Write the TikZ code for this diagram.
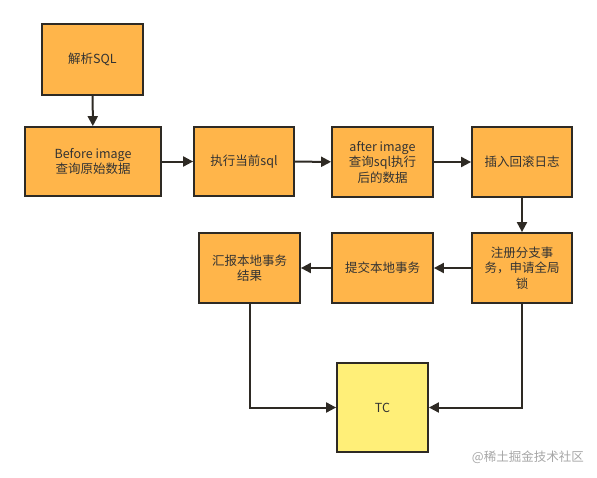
\documentclass[tikz,border=0pt]{standalone}
\usepackage{fontspec}
\setmainfont{Noto Sans CJK SC}
\usetikzlibrary{arrows.meta}
\definecolor{boxorange}{HTML}{FFB54A}
\definecolor{boxyellow}{HTML}{FFEF78}
\definecolor{edgedark}{HTML}{2E2A24}
\definecolor{txt}{HTML}{333333}
\tikzset{
  box/.style={draw=edgedark, line width=1.8pt, fill=boxorange, minimum width=100pt, minimum height=70pt, align=center, text=txt, font=\fontsize{12.5}{15.5}\selectfont, inner sep=2pt},
  wide/.style={box, minimum width=136pt, minimum height=69pt},
  tcbox/.style={box, fill=boxyellow, minimum width=91pt, minimum height=89pt},
  conn/.style={draw=edgedark, line width=2pt, -{Triangle[length=10pt,width=10pt]}}
}
\begin{document}
\begin{tikzpicture}[x=1pt,y=-1pt]
\useasboundingbox (0,0) rectangle (597,477);
\node[box, minimum width=101pt, minimum height=71pt] (parse) at (92.5,59.5) {解析SQL};
\node[wide] (before) at (93,161.5) {Before image\\查询原始数据};
\node[box, minimum height=69pt] (exec) at (244,161.5) {执行当前sql};
\node[box, minimum width=101pt] (after) at (382.5,162) {after image\\查询sql执行\\后的数据};
\node[box] (undo) at (522,162) {插入回滚日志};
\node[box] (reg) at (522,268) {注册分支事\\务，申请全局\\锁};
\node[box, minimum width=101pt] (commit) at (382.5,268) {提交本地事务};
\node[box, minimum width=101pt] (report) at (249.5,268) {汇报本地事务\\结果};
\node[tcbox] (tc) at (382.5,407.5) {TC};
\node[text=gray!70, font=\fontsize{12.5}{14}\selectfont, anchor=east, inner sep=0pt] (wm) at (584,457) {@稀土掘金技术社区};
\draw[conn] (parse) -- (before);
\draw[conn] (before) -- (exec);
\draw[conn] (exec) -- (after);
\draw[conn] (after) -- (undo);
\draw[conn] (undo) -- (reg);
\draw[conn] (reg) -- (commit);
\draw[conn] (commit) -- (report);
\draw[conn] (report.south) |- (tc.west);
\draw[conn] (reg.south) |- (tc.east);
\end{tikzpicture}
\end{document}
